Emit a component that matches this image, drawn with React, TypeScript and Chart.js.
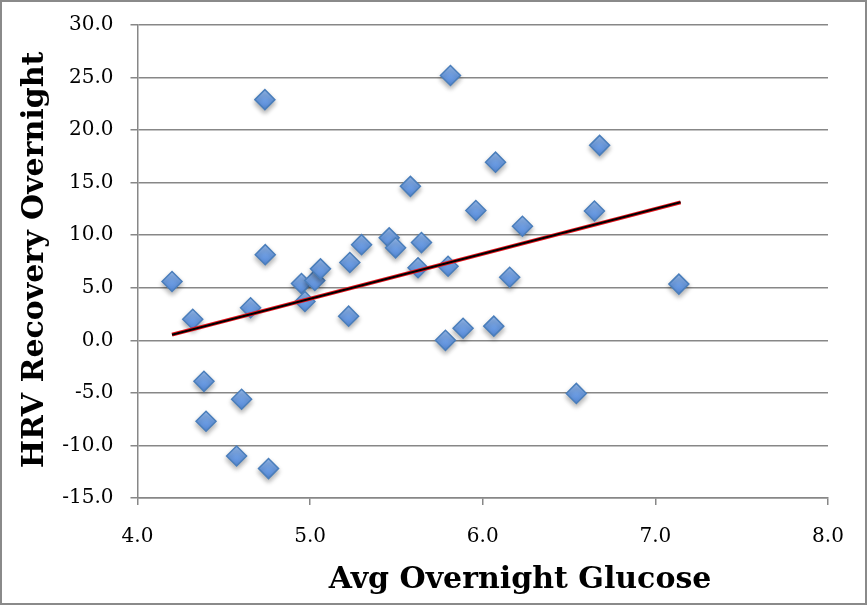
import { useEffect, useRef } from "react"
import { Chart, registerables, Plugin } from "chart.js"

Chart.register(...registerables)

// avg overnight glucose (x) vs HRV recovery overnight (y)
const glucose = [
  4.2, 4.32, 4.385, 4.397, 4.574, 4.603, 4.655, 4.738, 4.74, 4.759,
  4.95, 4.97, 5.027, 5.06, 5.223, 5.23, 5.298, 5.458, 5.495, 5.581,
  5.625, 5.645, 5.784, 5.799, 5.813, 5.886, 5.96, 6.064, 6.074, 6.156,
  6.23, 6.542, 6.647, 6.677, 7.136,
]
const hrv = [
  5.6, 2.0, -3.9, -7.7, -11.0, -5.6, 3.1, 22.9, 8.15, -12.2,
  5.4, 3.7, 5.7, 6.8, 2.3, 7.4, 9.1, 9.75, 8.8, 14.65,
  6.9, 9.3, 0.0, 7.05, 25.2, 1.15, 12.35, 1.35, 16.95, 6.0,
  10.85, -5.05, 12.3, 18.55, 5.35,
]

// linear trendline end points
const trendX = [4.2, 7.146]
const trendY = [0.54, 13.13]

const xTicks = [4, 5, 6, 7, 8]
const yTicks = [-15, -10, -5, 0, 5, 10, 15, 20, 25, 30]

const xTitle = "Avg Overnight Glucose"
const yTitle = "HRV Recovery Overnight"

const GRID = "#878787"
const TICK_FONT = { family: "'DejaVu Serif', serif", size: 20 }

const markerShadow: Plugin<"scatter"> = {
  id: "markerShadow",
  beforeDatasetDraw(chart, args) {
    if (chart.data.datasets[args.index].label !== "points") return
    const ctx = chart.ctx
    ctx.save()
    ctx.shadowColor = "rgba(0, 0, 0, 0.3)"
    ctx.shadowBlur = 5
    ctx.shadowOffsetX = 0
    ctx.shadowOffsetY = 3
  },
  afterDatasetDraw(chart, args) {
    if (chart.data.datasets[args.index].label !== "points") return
    chart.ctx.restore()
  },
}

const axisTitles: Plugin<"scatter"> = {
  id: "axisTitles",
  afterDraw(chart) {
    const ctx = chart.ctx
    ctx.save()
    ctx.fillStyle = "#000"
    ctx.font = "bold 30px 'DejaVu Serif', serif"
    ctx.textAlign = "center"
    ctx.textBaseline = "alphabetic"
    ctx.fillText(xTitle, 520, 588)
    ctx.translate(43, 260)
    ctx.rotate(-Math.PI / 2)
    ctx.fillText(yTitle, 0, 0)
    ctx.restore()
  },
}

export default function App() {
  const chartRef = useRef<HTMLCanvasElement>(null)
  const chartInstance = useRef<Chart | null>(null)

  useEffect(() => {
    if (!chartRef.current) return

    if (chartInstance.current) {
      chartInstance.current.destroy()
    }

    const ctx = chartRef.current.getContext("2d")
    if (!ctx) return

    chartInstance.current = new Chart(ctx, {
      type: "scatter",
      data: {
        datasets: [
          {
            label: "trend",
            data: trendX.map((x, i) => ({ x, y: trendY[i] })),
            showLine: true,
            borderColor: "#000000",
            borderWidth: 2,
            pointRadius: 0,
          },
          {
            label: "trendEdge",
            data: trendX.map((x, i) => ({ x, y: trendY[i] })),
            showLine: true,
            borderColor: "#e8141c",
            borderWidth: 4,
            pointRadius: 0,
          },
          {
            label: "points",
            data: glucose.map((x, i) => ({ x, y: hrv[i] })),
            pointStyle: "rectRot",
            pointRadius: 10,
            pointBorderWidth: 1.5,
            pointBorderColor: "#4a7ebb",
            pointBackgroundColor: (c: any) => {
              const yScale = c.chart.scales?.y
              if (c.type !== "data" || !yScale || !c.parsed) return "#6e9ee4"
              const py = yScale.getPixelForValue(c.parsed.y)
              if (!Number.isFinite(py)) return "#6e9ee4"
              const g = c.chart.ctx.createLinearGradient(0, py - 10, 0, py + 10)
              g.addColorStop(0, "#98bdf0")
              g.addColorStop(0.5, "#6f9fe4")
              g.addColorStop(1, "#5589d8")
              return g
            },
          },
        ],
      },
      options: {
        responsive: true,
        maintainAspectRatio: false,
        animation: false,
        layout: {
          padding: { top: 25, right: 39, left: 0, bottom: 0 },
        },
        scales: {
          x: {
            type: "linear",
            min: 4,
            max: 8,
            afterBuildTicks: (scale) => {
              scale.ticks = xTicks.map((value) => ({ value }))
            },
            afterFit: (scale) => {
              scale.height = 107
            },
            ticks: {
              color: "#000",
              font: TICK_FONT,
              padding: 20,
              callback: (v) => Number(v).toFixed(1),
            },
            grid: {
              drawOnChartArea: false,
              color: GRID,
              lineWidth: 1.5,
              tickLength: 7,
            },
            border: { color: GRID, width: 1.5 },
          },
          y: {
            type: "linear",
            min: -15,
            max: 30,
            afterBuildTicks: (scale) => {
              scale.ticks = yTicks.map((value) => ({ value }))
            },
            afterFit: (scale: any) => {
              scale.width = 137.5
              // tick padding would otherwise push the plot down
              scale.paddingTop = 12
              scale.paddingBottom = 12
            },
            ticks: {
              color: "#000",
              font: TICK_FONT,
              padding: 17,
              callback: (v) => Number(v).toFixed(1),
            },
            grid: {
              color: GRID,
              lineWidth: 1.5,
              tickLength: 7,
            },
            border: { color: GRID, width: 1.5 },
          },
        },
        plugins: {
          legend: { display: false },
          tooltip: { enabled: false },
        },
      },
      plugins: [markerShadow, axisTitles],
    })

    return () => {
      if (chartInstance.current) {
        chartInstance.current.destroy()
        chartInstance.current = null
      }
    }
  }, [])

  return (
    <div
      style={{
        position: "fixed",
        left: 0,
        top: 0,
        width: 867,
        height: 605,
        background: "#fff",
      }}
    >
      <canvas ref={chartRef} />
      <div
        style={{
          position: "absolute",
          inset: 0,
          border: "2px solid #8a8a8a",
          pointerEvents: "none",
        }}
      />
    </div>
  )
}
